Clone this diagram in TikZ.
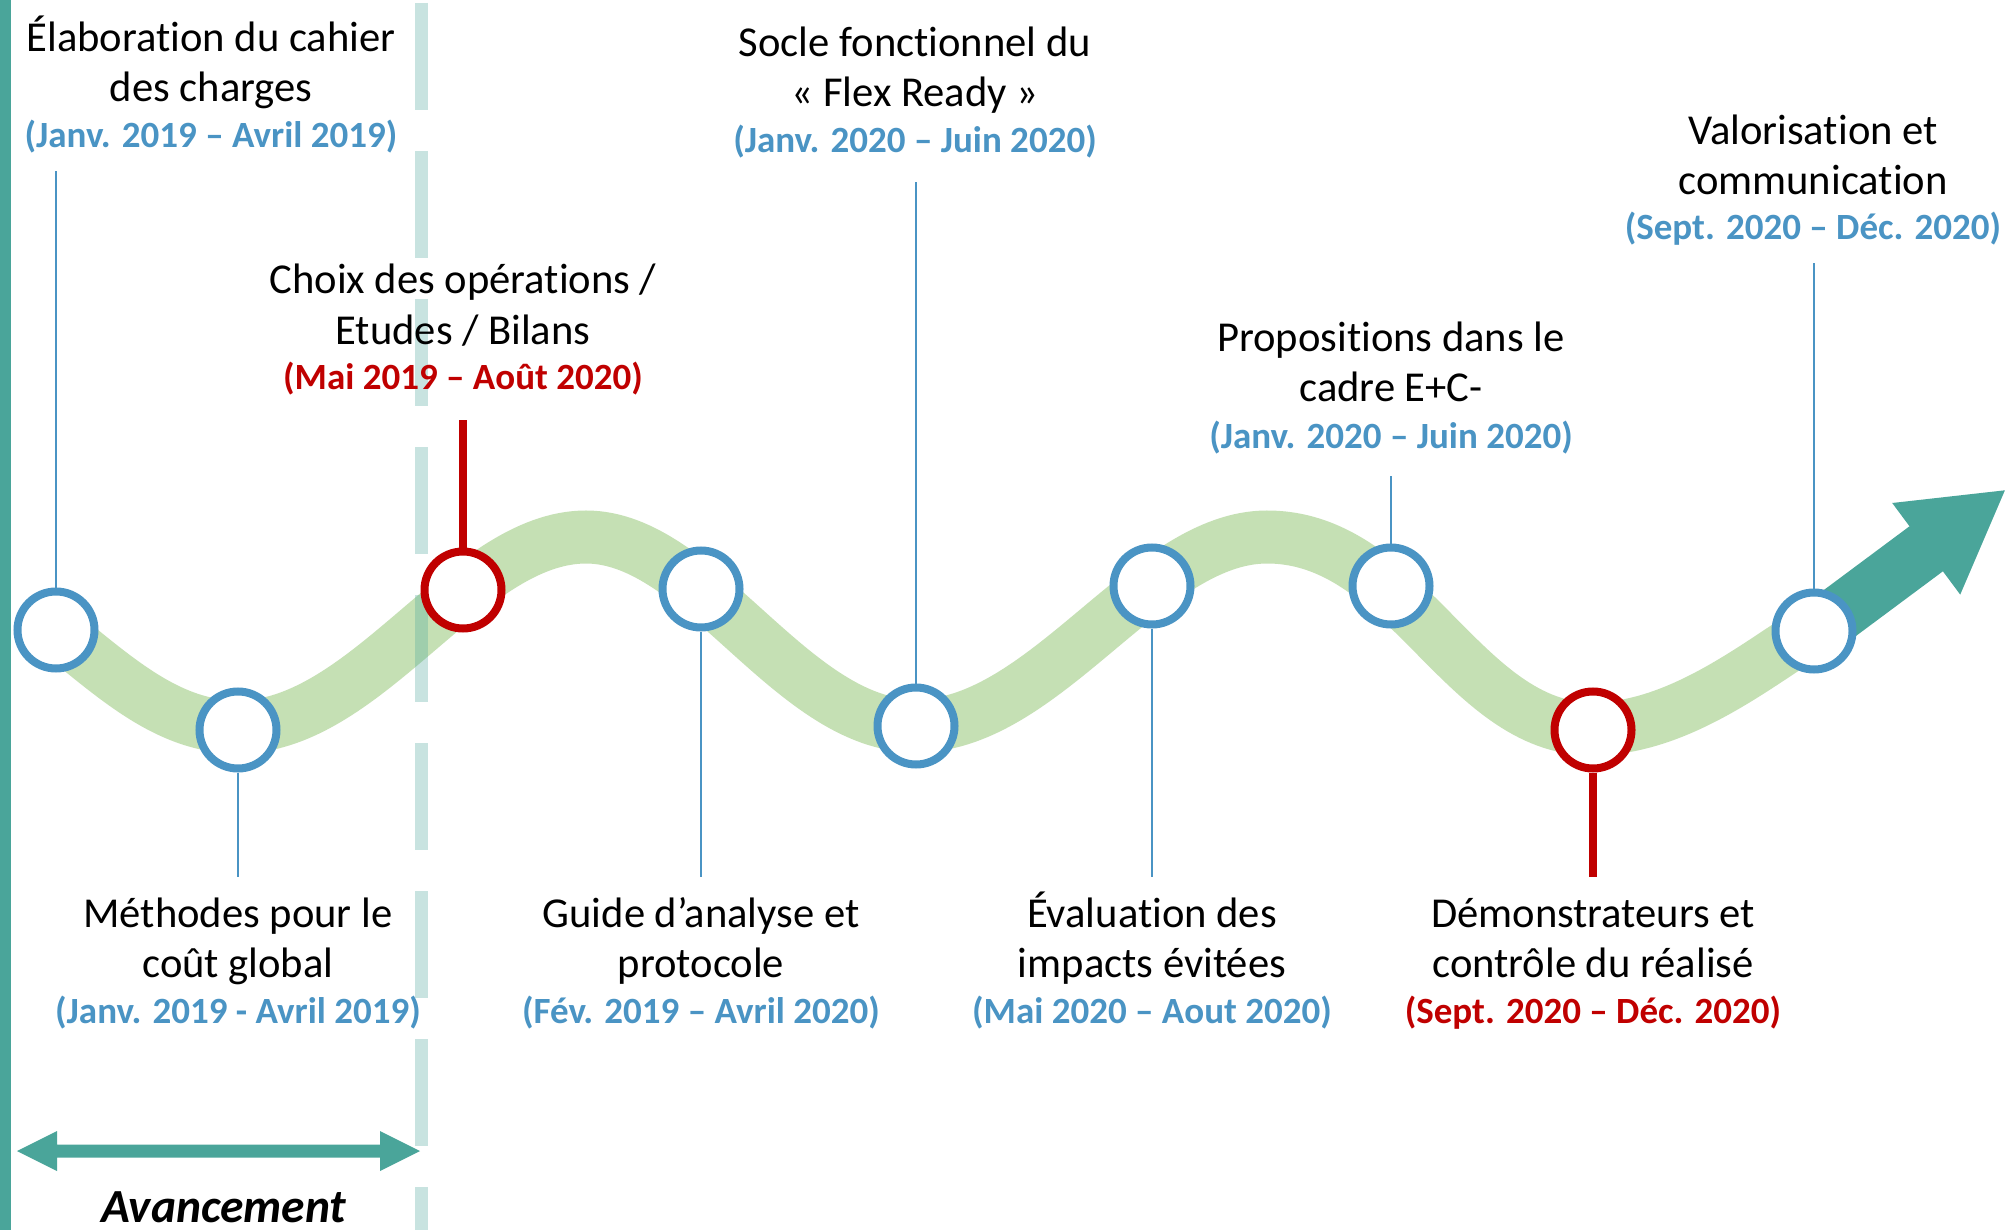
\documentclass[tikz,border=0pt]{standalone}
\usepackage{fontspec}
\setmainfont{Carlito}[Ligatures={TeX,NoCommon},Contextuals={NoAlternate}]
\definecolor{mblue}{RGB}{74,148,196}
\definecolor{mred}{RGB}{192,0,0}
\definecolor{mteal}{RGB}{74,165,154}
\definecolor{bandgreen}{RGB}{197,224,180}
\begin{document}
\begin{tikzpicture}[x=1pt,y=-1pt,
  band/.style={draw=bandgreen, line width=53pt},
  dashline/.style={draw=mteal, draw opacity=0.3, line width=13pt, dash pattern=on 107pt off 41pt},
  mile/.style={circle, draw=mblue, line width=8pt, fill=white, minimum size=77pt, inner sep=0pt},
  redmile/.style={mile, draw=mred},
  lead/.style={draw=mblue, line width=1.5pt},
  redlead/.style={draw=mred, line width=7.5pt},
  lbl/.style={anchor=base, inner sep=0pt, font=\fontsize{42.6}{50}\selectfont},
  dlbl/.style={anchor=base, inner sep=0pt, font=\fontsize{37}{44}\selectfont\bfseries, text=mblue},
  rdlbl/.style={dlbl, text=mred}]
\useasboundingbox (0,0) rectangle (2005,1230);
\fill[white] (0,0) rectangle (2005,1230);
% left bar
\fill[mteal] (0,0) rectangle (11,1230);
% wavy band
\draw[band] (56,630) .. controls (116,678) and (168,727) .. (238,727)
  .. controls (368,727) and (466,537) .. (586,537)
  .. controls (701,537) and (791,726) .. (916,726)
  .. controls (1046,726) and (1147,537) .. (1267,537)
  .. controls (1407,537) and (1462,729) .. (1592,729)
  .. controls (1680,729) and (1760,662) .. (1813,630);
% big teal arrow
\fill[mteal] (1829.7,655.5) -- (1796.3,610.5) -- (1909.5,526.3) -- (1892.2,503.0)
  -- (2004.9,490.3) -- (1960.2,594.6) -- (1942.9,571.3) -- cycle;
% dashed separator
\coordinate (dtop) at (421.5,3);
\coordinate (dbot) at (421.5,1230);
\draw[dashline] (dtop) -- (dbot);
% milestones
\node[mile] (c1) at (56,630) {};
\node[mile] (c2) at (238,730) {};
\node[redmile] (c3) at (463,590) {};
\node[mile] (c4) at (701,589) {};
\node[mile] (c5) at (916,726) {};
\node[mile] (c6) at (1152,586) {};
\node[mile] (c7) at (1391,586) {};
\node[redmile] (c8) at (1593,730) {};
\node[mile] (c9) at (1814,631) {};
% leader end points
\coordinate (e1) at (56,171);
\coordinate (e2) at (238,877);
\coordinate (e3) at (463,420);
\coordinate (e4) at (701,877);
\coordinate (e5) at (916,182);
\coordinate (e6) at (1152,877);
\coordinate (e7) at (1391,476);
\coordinate (e8) at (1593,877);
\coordinate (e9) at (1814,263);
\draw[lead] (c1.north) -- (e1);
\draw[lead] (c2.south) -- (e2);
\draw[redlead] (c3.north) -- (e3);
\draw[lead] (c4.south) -- (e4);
\draw[lead] (c5.north) -- (e5);
\draw[lead] (c6.south) -- (e6);
\draw[lead] (c7.north) -- (e7);
\draw[redlead] (c8.south) -- (e8);
\draw[lead] (c9.north) -- (e9);
% top labels
\node[lbl] (t1a) at (211,52) {Élaboration du cahier};
\node[lbl] (t1b) at (211,102) {des charges};
\node[dlbl] (d1) at (211,148) {(Janv. 2019 – Avril 2019)};
\node[lbl] (t3a) at (463,294) {Choix des opérations /};
\node[lbl] (t3b) at (463,345) {Etudes / Bilans};
\node[rdlbl] (d3) at (463,390) {(Mai 2019 – Août 2020)};
\node[lbl] (t5a) at (915,57) {Socle fonctionnel du};
\node[lbl] (t5b) at (915,107) {« Flex Ready »};
\node[dlbl] (d5) at (915,153) {(Janv. 2020 – Juin 2020)};
\node[lbl] (t7a) at (1391,352) {Propositions dans le};
\node[lbl] (t7b) at (1391,402) {cadre E+C-};
\node[dlbl] (d7) at (1391,448) {(Janv. 2020 – Juin 2020)};
\node[lbl] (t9a) at (1813,145) {Valorisation et};
\node[lbl] (t9b) at (1813,195) {communication};
\node[dlbl] (d9) at (1813,240) {(Sept. 2020 – Déc. 2020)};
% bottom labels
\node[lbl] (t2a) at (238,927) {Méthodes pour le};
\node[lbl] (t2b) at (238,977) {coût global};
\node[dlbl] (d2) at (238,1023) {(Janv. 2019 - Avril 2019)};
\node[lbl] (t4a) at (701,927) {Guide d’analyse et};
\node[lbl] (t4b) at (701,977) {protocole};
\node[dlbl] (d4) at (701,1023) {(Fév. 2019 – Avril 2020)};
\node[lbl] (t6a) at (1152,927) {Évaluation des};
\node[lbl] (t6b) at (1152,977) {impacts évitées};
\node[dlbl] (d6) at (1152,1023) {(Mai 2020 – Aout 2020)};
\node[lbl] (t8a) at (1593,927) {Démonstrateurs et};
\node[lbl] (t8b) at (1593,977) {contrôle du réalisé};
\node[rdlbl] (d8) at (1593,1023) {(Sept. 2020 – Déc. 2020)};
% progress arrow
\fill[mteal] (17,1151) -- (57,1131) -- (57,1144.5) -- (380,1144.5) -- (380,1131)
  -- (420,1151) -- (380,1171) -- (380,1157.5) -- (57,1157.5) -- (57,1171) -- cycle;
\node[anchor=base, inner sep=0pt, font=\fontsize{47.5}{50}\selectfont\bfseries\itshape] (av) at (224,1222) {Avancement};
\end{tikzpicture}
\end{document}
